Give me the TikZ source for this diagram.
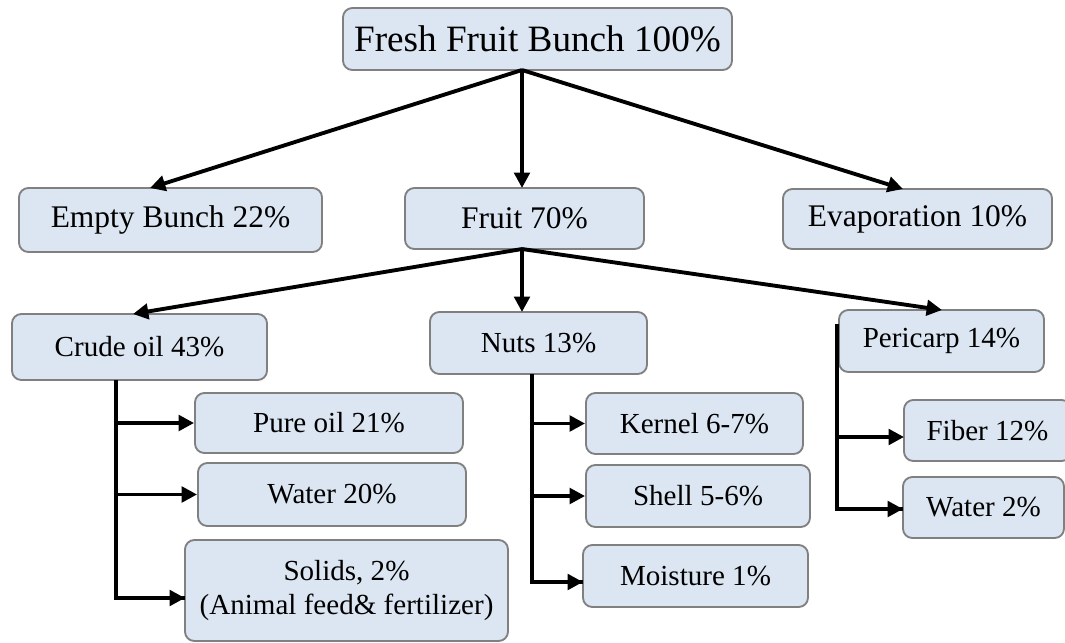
\documentclass[tikz,border=0pt]{standalone}
\usepackage{fontspec}
\setmainfont{Liberation Serif}
\usetikzlibrary{arrows.meta}
\definecolor{boxfill}{HTML}{DCE6F2}
\definecolor{boxline}{HTML}{808080}
\tikzset{
  box/.style={draw=boxline, fill=boxfill, line width=1.4pt, rounded corners=7pt, inner sep=0pt, align=center},
  ftop/.style={font=\fontsize{27.9}{30}\selectfont},
  fmid/.style={font=\fontsize{23.6}{26}\selectfont},
  flow/.style={font=\fontsize{21.8}{24.8}\selectfont},
  arr/.style={line width=2.9pt, -{Triangle[length=11.5pt,width=11.5pt]}},
  trunk/.style={line width=2.9pt}
}
% \bx{name}{style}{x1}{y1}{x2}{y2}{text}
\newcommand\bx[7]{%
  \node[box,#2,minimum width={(#5-#3)*0.75pt},minimum height={(#6-#4)*0.75pt}]
    (#1) at ({(#3+#5)/2},{(#4+#6)/2}) {#7};}
\begin{document}
\begin{tikzpicture}[x=0.75pt,y=-0.75pt]
\useasboundingbox (0,0) rectangle (1065,643);
\clip (0,0) rectangle (1065,643);
% boxes
\bx{top}{ftop}{343}{8}{732}{70}{Fresh Fruit Bunch 100\%}
\bx{eb}{fmid}{19}{188}{322}{252}{Empty Bunch 22\%}
\bx{fruit}{fmid}{405}{188}{644}{249}{Fruit 70\%}
\bx{evap}{fmid}{783}{189}{1052}{249}{Evaporation 10\%}
\bx{crude}{flow}{12}{314}{267}{380}{Crude oil 43\%}
\bx{nuts}{flow}{430}{312}{647}{374}{Nuts 13\%}
\bx{peri}{flow}{839}{310}{1044}{372}{Pericarp 14\%}
\bx{pure}{flow}{195}{393}{463}{453}{Pure oil 21\%}
\bx{water}{flow}{198}{463}{466}{526}{Water 20\%}
\bx{solids}{flow}{185}{540}{508}{641}{Solids, 2\%\\(Animal feed\& fertilizer)}
\bx{kernel}{flow}{586}{393}{803}{454}{Kernel 6-7\%}
\bx{shell}{flow}{586}{465}{810}{527}{Shell 5-6\%}
\bx{moist}{flow}{583}{545}{808}{607}{Moisture 1\%}
\bx{fiber}{flow}{904}{400}{1071}{461}{Fiber 12\%}
\bx{water2}{flow}{903}{477}{1064}{538}{Water 2\%}
% coordinates
\coordinate (ta) at (522,70);
\coordinate (ebin) at (150,188);
\coordinate (fruitin) at (522,188);
\coordinate (evapin) at (903,189);
\coordinate (fa) at (522,249);
\coordinate (crudein) at (133,314);
\coordinate (nutsin) at (522,312);
\coordinate (periin) at (942,310);
% top level
\draw[arr] (ta) -- (ebin);
\draw[arr] (ta) -- (fruitin);
\draw[arr] (ta) -- (evapin);
% fruit level
\draw[arr] (fa) -- (crudein);
\draw[arr] (fa) -- (nutsin);
\draw[arr] (fa) -- (periin);
% crude oil branch
\coordinate (c0) at (116,380);
\coordinate (c3) at (185,598);
\draw[trunk] (c0) |- (c3);
\draw[arr] (c0 |- pure.west) -- (pure.west);
\draw[arr] (c0 |- water.west) -- (water.west);
\draw[arr] (c0 |- c3) -- (c3);
% nuts branch
\coordinate (n0) at (532,374);
\coordinate (n3) at (583,582);
\draw[trunk] (n0) |- (n3);
\draw[arr] (n0 |- kernel.west) -- (kernel.west);
\draw[arr] (n0 |- shell.west) -- (shell.west);
\draw[arr] (n0 |- n3) -- (n3);
% pericarp branch
\coordinate (p0) at (837,324);
\coordinate (p1) at (904,437);
\coordinate (p2) at (903,509);
\draw[trunk] (p0) |- (p2);
\draw[arr] (p0 |- p1) -- (p1);
\draw[arr] (p0 |- p2) -- (p2);
\end{tikzpicture}
\end{document}
